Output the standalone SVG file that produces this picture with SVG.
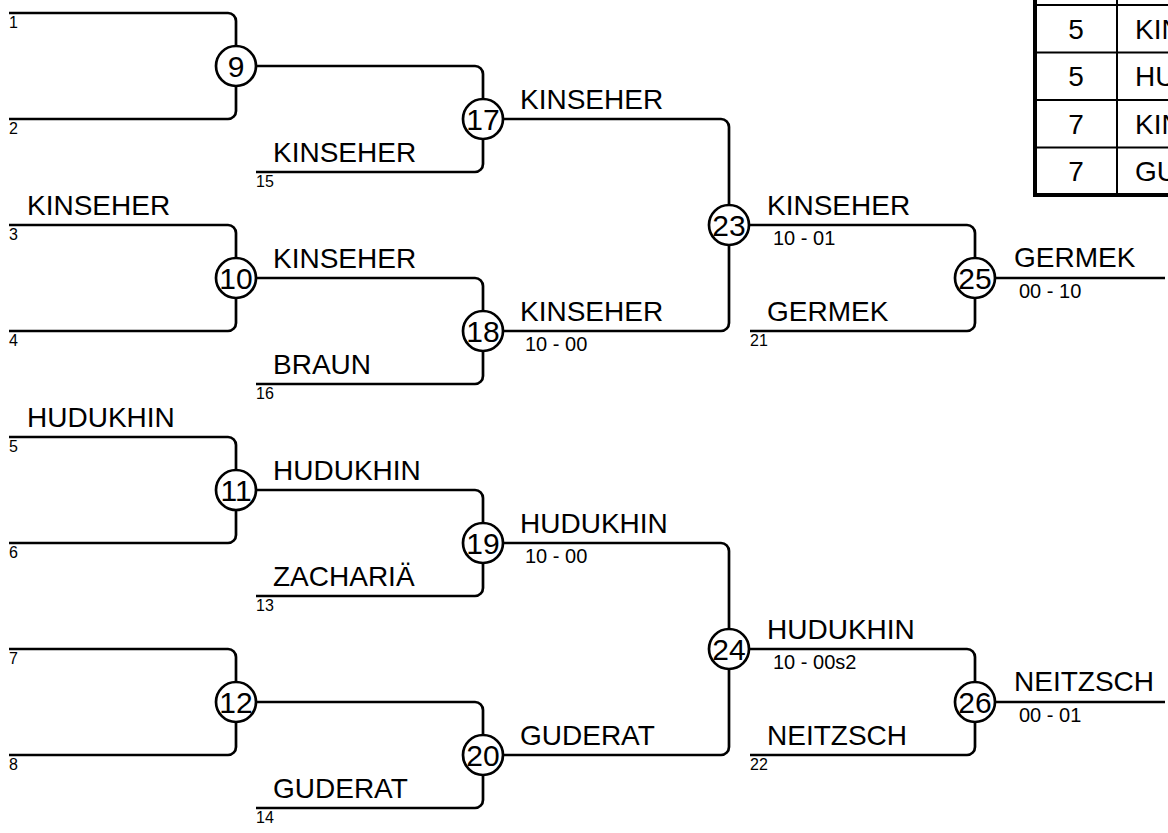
<svg xmlns="http://www.w3.org/2000/svg" width="1168" height="833" viewBox="0 0 1168 833">
<style>
.ln{fill:none;stroke:#000;stroke-width:2.7}
.nd circle{fill:#fff;stroke:#000;stroke-width:2.7}
.num{font-family:"Liberation Sans",Arial,sans-serif;font-size:30px;text-anchor:middle;fill:#000}
.tn{font-family:"Liberation Sans",Arial,sans-serif;font-size:28px;text-anchor:middle;fill:#000}
.nm{font-family:"Liberation Sans",Arial,sans-serif;font-size:28px;fill:#000}
.sc{font-family:"Liberation Sans",Arial,sans-serif;font-size:20px;fill:#000}
.sd{font-family:"Liberation Sans",Arial,sans-serif;font-size:16px;fill:#000}
.tb{fill:none;stroke:#000;stroke-width:2}
.tbk{fill:none;stroke:#000;stroke-width:4}
</style>
<rect width="1168" height="833" fill="#fff"/>
<g id="connectors">
<path class="ln" d="M9 13H228A8 8 0 0 1 236 21V111A8 8 0 0 1 228 119H9"/>
<path class="ln" d="M9 225H228A8 8 0 0 1 236 233V323A8 8 0 0 1 228 331H9"/>
<path class="ln" d="M9 437H228A8 8 0 0 1 236 445V535A8 8 0 0 1 228 543H9"/>
<path class="ln" d="M9 649H228A8 8 0 0 1 236 657V747A8 8 0 0 1 228 755H9"/>
<path class="ln" d="M236 66H475A8 8 0 0 1 483 74V164A8 8 0 0 1 475 172H256"/>
<path class="ln" d="M236 278H475A8 8 0 0 1 483 286V376A8 8 0 0 1 475 384H256"/>
<path class="ln" d="M236 490H475A8 8 0 0 1 483 498V588A8 8 0 0 1 475 596H256"/>
<path class="ln" d="M236 702H475A8 8 0 0 1 483 710V800A8 8 0 0 1 475 808H256"/>
<path class="ln" d="M483 119H721A8 8 0 0 1 729 127V323A8 8 0 0 1 721 331H483"/>
<path class="ln" d="M483 543H721A8 8 0 0 1 729 551V747A8 8 0 0 1 721 755H483"/>
<path class="ln" d="M729 225H967A8 8 0 0 1 975 233V323A8 8 0 0 1 967 331H750"/>
<path class="ln" d="M729 649H967A8 8 0 0 1 975 657V747A8 8 0 0 1 967 755H750"/>
<path class="ln" d="M975 278H1165"/>
<path class="ln" d="M975 702H1165"/>
</g>
<g id="n9" class="nd"><circle cx="236" cy="66" r="20"/><text class="num" x="236" y="77">9</text></g>
<g id="n10" class="nd"><circle cx="236" cy="278" r="20"/><text class="num" x="236" y="289">10</text></g>
<g id="n11" class="nd"><circle cx="236" cy="490" r="20"/><text class="num" x="236" y="501">11</text></g>
<g id="n12" class="nd"><circle cx="236" cy="702" r="20"/><text class="num" x="236" y="713">12</text></g>
<g id="n17" class="nd"><circle cx="483" cy="119" r="20"/><text class="num" x="483" y="130">17</text></g>
<g id="n18" class="nd"><circle cx="483" cy="331" r="20"/><text class="num" x="483" y="342">18</text></g>
<g id="n19" class="nd"><circle cx="483" cy="543" r="20"/><text class="num" x="483" y="554">19</text></g>
<g id="n20" class="nd"><circle cx="483" cy="755" r="20"/><text class="num" x="483" y="766">20</text></g>
<g id="n23" class="nd"><circle cx="729" cy="225" r="20"/><text class="num" x="729" y="236">23</text></g>
<g id="n24" class="nd"><circle cx="729" cy="649" r="20"/><text class="num" x="729" y="660">24</text></g>
<g id="n25" class="nd"><circle cx="975" cy="278" r="20"/><text class="num" x="975" y="289">25</text></g>
<g id="n26" class="nd"><circle cx="975" cy="702" r="20"/><text class="num" x="975" y="713">26</text></g>
<g id="seeds">
<text class="sd" x="9" y="28">1</text>
<text class="sd" x="9" y="134">2</text>
<text class="sd" x="9" y="240">3</text>
<text class="sd" x="9" y="346">4</text>
<text class="sd" x="9" y="452">5</text>
<text class="sd" x="9" y="558">6</text>
<text class="sd" x="9" y="664">7</text>
<text class="sd" x="9" y="770">8</text>
<text class="sd" x="256" y="187">15</text>
<text class="sd" x="256" y="399">16</text>
<text class="sd" x="256" y="611">13</text>
<text class="sd" x="256" y="823">14</text>
<text class="sd" x="750" y="346">21</text>
<text class="sd" x="750" y="770">22</text>
</g>
<g id="names">
<text class="nm" x="27" y="215">KINSEHER</text>
<text class="nm" x="27" y="427">HUDUKHIN</text>
<text class="nm" x="273" y="268">KINSEHER</text>
<text class="nm" x="273" y="480">HUDUKHIN</text>
<text class="nm" x="273" y="162">KINSEHER</text>
<text class="nm" x="273" y="374">BRAUN</text>
<text class="nm" x="273" y="586">ZACHARIÄ</text>
<text class="nm" x="273" y="798">GUDERAT</text>
<text class="nm" x="520" y="109">KINSEHER</text>
<text class="nm" x="520" y="321">KINSEHER</text>
<text class="sc" x="525" y="351">10 - 00</text>
<text class="nm" x="520" y="533">HUDUKHIN</text>
<text class="sc" x="525" y="563">10 - 00</text>
<text class="nm" x="520" y="745">GUDERAT</text>
<text class="nm" x="767" y="215">KINSEHER</text>
<text class="sc" x="773" y="245">10 - 01</text>
<text class="nm" x="767" y="321">GERMEK</text>
<text class="nm" x="767" y="639">HUDUKHIN</text>
<text class="sc" x="773" y="669">10 - 00s2</text>
<text class="nm" x="767" y="745">NEITZSCH</text>
<text class="nm" x="1014" y="267">GERMEK</text>
<text class="sc" x="1019" y="298">00 - 10</text>
<text class="nm" x="1014" y="691">NEITZSCH</text>
<text class="sc" x="1019" y="722">00 - 01</text>
</g>
<g id="table">
<rect x="1035" y="-40" width="200" height="235" fill="#fff"/>
<path class="tb" d="M1035 5H1168M1035 52.5H1168M1035 100H1168M1035 147.5H1168M1117 0V195"/>
<path class="tbk" d="M1035 0V195H1168"/>
<text class="tn" x="1076" y="39">5</text>
<text class="nm" x="1135" y="39">KIN</text>
<text class="tn" x="1076" y="86">5</text>
<text class="nm" x="1135" y="86">HU</text>
<text class="tn" x="1076" y="134">7</text>
<text class="nm" x="1135" y="134">KIN</text>
<text class="tn" x="1076" y="181">7</text>
<text class="nm" x="1135" y="181">GU</text>
</g>
</svg>
